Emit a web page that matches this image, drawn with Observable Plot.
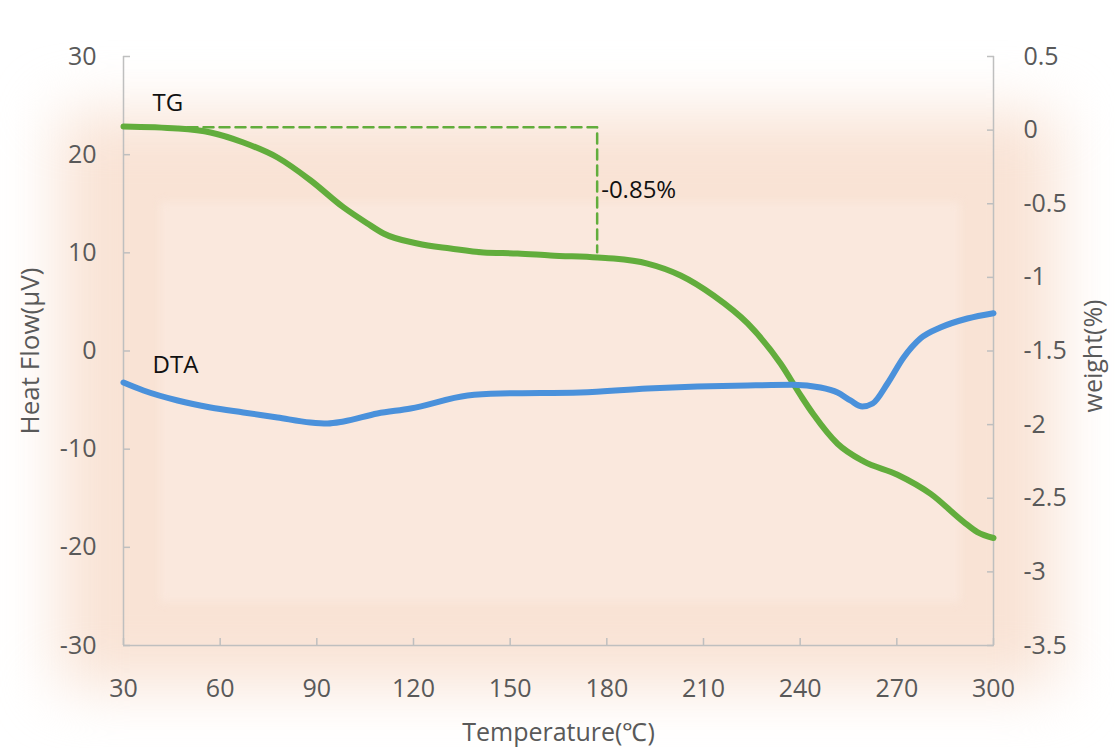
<!DOCTYPE html>
<html><head><meta charset="utf-8">
<script src="https://cdn.jsdelivr.net/npm/d3@7"></script>
<script src="https://cdn.jsdelivr.net/npm/@observablehq/plot@0.6"></script>
<style>
html,body{margin:0;padding:0;background:#fff;}
#wrap{position:relative;width:1115px;height:748px;overflow:hidden;background:#fff;}
#glow{position:absolute;left:58px;top:112px;width:1000px;height:575px;background:#f9e3d5;filter:blur(30px);}
#inner{position:absolute;left:160px;top:202px;width:800px;height:400px;background:#fae8dd;filter:blur(4px);}
#chart{position:absolute;left:0;top:0;}
</style></head><body>
<div id="wrap"><div id="glow"></div><div id="inner"></div><div id="chart"></div></div>
<script>
// TG curve (weight %, right axis)
const tgTemp = [30.0, 46.8, 57.0, 67.2, 77.8, 88.1, 98.3, 105.7, 110.7, 121.2, 131.5, 141.7, 152.3, 162.5, 177.1, 182.1, 192.6, 202.9, 213.1, 223.7, 233.9, 240.1, 244.1, 251.6, 259.7, 270.2, 280.5, 290.7, 295.0, 300];
const tgWeight = [0.025, 0.011, -0.016, -0.084, -0.186, -0.342, -0.525, -0.634, -0.702, -0.770, -0.804, -0.831, -0.838, -0.851, -0.865, -0.872, -0.906, -0.987, -1.123, -1.313, -1.585, -1.80, -1.93, -2.13, -2.25, -2.34, -2.47, -2.66, -2.73, -2.77];
// DTA curve (heat flow µV, left axis)
const dtaTemp = [30.0, 36.2, 46.8, 57.0, 67.2, 77.8, 88.0, 93.3, 98.3, 108.8, 119.1, 136.8, 147.0, 171.8, 192.6, 208.1, 223.7, 237.9, 246.3, 251.6, 255.6, 259.3, 262.5, 267.1, 272.1, 277.3, 283.5, 291.9, 300];
const dtaHeat = [-3.21, -4.02, -5.04, -5.75, -6.26, -6.77, -7.28, -7.38, -7.18, -6.37, -5.86, -4.53, -4.33, -4.23, -3.82, -3.62, -3.51, -3.45, -3.72, -4.23, -5.04, -5.65, -5.35, -3.31, -0.66, 1.27, 2.39, 3.31, 3.85];
// weight-loss marker (dashed)
const lossTemp = [30, 177, 177];
const lossWeight = [0.02, 0.02, -0.83];
const lossLabel = "-0.85%";
// tick values
const xTicks = [30, 60, 90, 120, 150, 180, 210, 240, 270, 300];
const leftTicks = [30, 20, 10, 0, -10, -20, -30];
const rightTicks = [0.5, 0, -0.5, -1, -1.5, -2, -2.5, -3, -3.5];
const seriesNames = ["TG", "DTA"];
const titles = {x: "Temperature(℃)", left: "Heat Flow(μV)", right: "weight(%)"};

const wToLeft = w => 15 * w + 22.5;           // right axis [-3.5,0.5] -> left [-30,30]
const leftToW = v => Math.round(((v - 22.5) / 15) * 10) / 10;

const tg = tgTemp.map((t, i) => ({t, v: wToLeft(tgWeight[i])}));
const dta = dtaTemp.map((t, i) => ({t, v: dtaHeat[i]}));
const loss = lossTemp.map((t, i) => ({t, v: wToLeft(lossWeight[i])}));

const green = "#62ad3c", blue = "#4a91db", axisGray = "#bfbfbf", textGray = "#595959";
const fmt = d => String(d);
const F = "'Open Sans', sans-serif";

const chart = Plot.plot({
  width: 1115, height: 748,
  marginLeft: 123, marginRight: 122, marginTop: 56, marginBottom: 103,
  style: {fontFamily: F, background: "transparent", color: textGray},
  x: {domain: [30, 300]},
  y: {domain: [-30, 30]},
  marks: [
    Plot.ruleX([30, 300], {stroke: axisGray, strokeWidth: 1.5}),
    Plot.ruleY([-30], {stroke: axisGray, strokeWidth: 1.5}),
    // inward tick marks
    Plot.axisY(leftTicks, {anchor: "left", tickSize: 7, insetLeft: 7, fill: "none", stroke: axisGray, strokeWidth: 1.5, label: null}),
    Plot.axisY(rightTicks.map(wToLeft), {anchor: "right", tickSize: 7, insetRight: 7, fill: "none", stroke: axisGray, strokeWidth: 1.5, label: null}),
    Plot.axisX(xTicks, {anchor: "bottom", tickSize: 7, insetBottom: 7, fill: "none", stroke: axisGray, strokeWidth: 1.5, label: null}),
    // tick labels
    Plot.axisY(leftTicks, {anchor: "left", tickSize: 0, tickPadding: 27, fontSize: 25, fill: textGray, tickFormat: fmt, label: null}),
    Plot.axisY(rightTicks.map(wToLeft), {anchor: "right", tickSize: 0, tickPadding: 30, fontSize: 25, fill: textGray, tickFormat: d => fmt(leftToW(d)), label: null}),
    Plot.axisX(xTicks, {anchor: "bottom", tickSize: 0, tickPadding: 34, fontSize: 25, fill: textGray, tickFormat: fmt, label: null}),
    // axis titles
    Plot.text([titles.left], {frameAnchor: "left", dx: -93, rotate: -90, text: d => d, fontSize: 26, fill: textGray, textAnchor: "middle", lineAnchor: "middle"}),
    Plot.text([titles.right], {frameAnchor: "right", dx: 100, dy: 5, rotate: -90, text: d => d, fontSize: 25, fill: textGray, textAnchor: "middle", lineAnchor: "middle"}),
    Plot.text([titles.x], {frameAnchor: "bottom", dy: 87, text: d => d, fontSize: 25, fill: textGray, textAnchor: "middle", lineAnchor: "middle"}),
    // dashed weight-loss marker
    Plot.line(loss, {x: "t", y: "v", stroke: green, strokeWidth: 2.5, strokeDasharray: "10,6"}),
    // curves
    Plot.line(tg, {x: "t", y: "v", stroke: green, strokeWidth: 6, curve: "monotone-x"}),
    Plot.line(dta, {x: "t", y: "v", stroke: blue, strokeWidth: 6, curve: "monotone-x"}),
    // annotations
    Plot.text([seriesNames[0]], {x: 39, y: wToLeft(0.18), text: d => d, textAnchor: "start", fontSize: 24, fill: "#111"}),
    Plot.text([seriesNames[1]], {x: 39, y: -1.5, text: d => d, textAnchor: "start", fontSize: 24, fill: "#111"}),
    Plot.text([lossLabel], {x: 177, y: wToLeft(-0.41), text: d => d, textAnchor: "start", dx: 4, fontSize: 24, fill: "#111"})
  ]
});
document.getElementById("chart").appendChild(chart);
</script>
</body></html>
